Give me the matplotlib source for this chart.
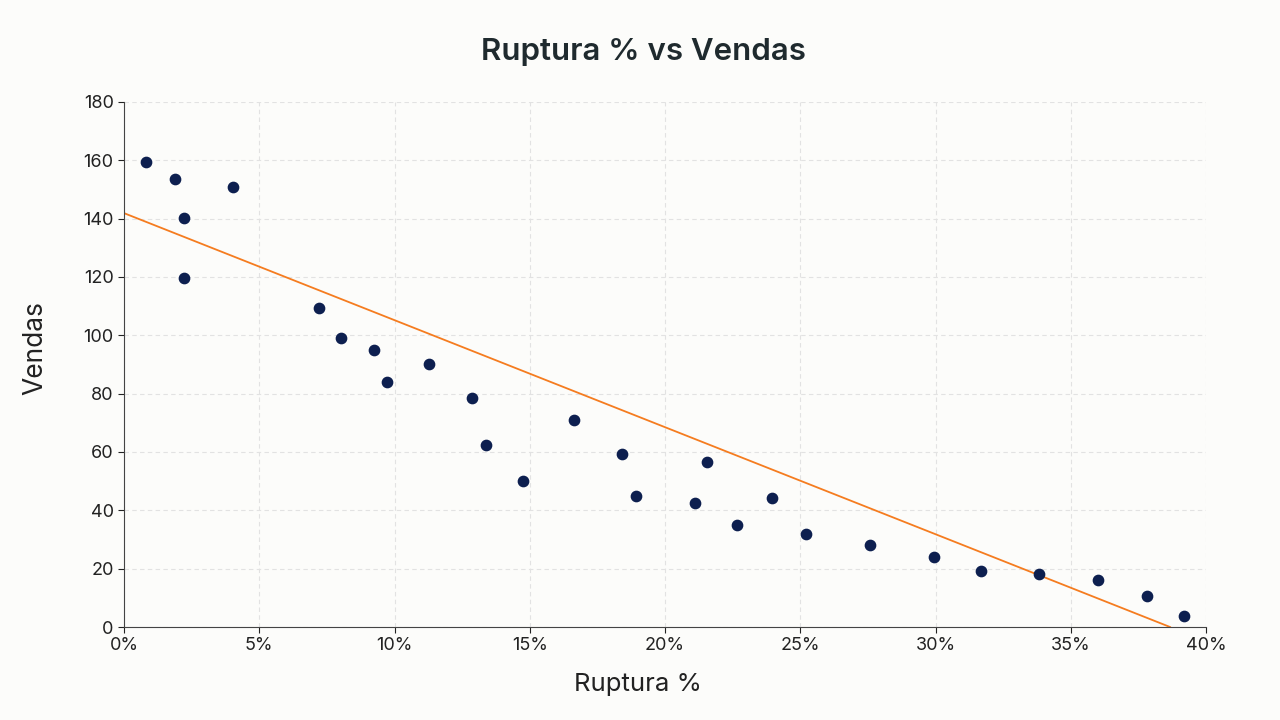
import numpy as np
import matplotlib
matplotlib.use("Agg")
import matplotlib.pyplot as plt
from matplotlib.ticker import FuncFormatter

ruptura = [0.81,1.89,2.22,2.22,4.03,7.21,8.02,9.24,9.72,11.28,12.87,13.38,14.75,16.64,18.41,18.93,
           21.11,21.55,22.66,23.96,25.21,27.58,29.95,31.68,33.83,36.0,37.82,39.19]
vendas = [159.4,153.6,140.2,119.6,150.8,109.4,99.1,95.0,84.0,90.2,78.5,62.4,50.1,71.0,59.3,44.9,
          42.5,56.6,35.0,44.2,31.9,28.1,24.0,19.2,18.2,16.1,10.6,3.8]
trend_x = [0, 38.67]
trend_y = [141.9, 0]

plt.rcParams['font.family'] = ['Inter', 'DejaVu Sans']
bg = '#fcfcfa'
fig = plt.figure(figsize=(12.8, 7.2), dpi=100, facecolor=bg)
ax = fig.add_axes([124/1280, 1-627/720, (1206-124)/1280, (627-102)/720], facecolor=bg)
ax.scatter(ruptura, vendas, s=55, color='#0d1f4f', zorder=3)
ax.plot(trend_x, trend_y, color='#f57c1f', lw=1.3, zorder=2)
ax.set_xlim(0, 40)
ax.set_ylim(0, 180)
ax.set_xticks(range(0, 41, 5))
ax.set_yticks(range(0, 181, 20))
ax.xaxis.set_major_formatter(FuncFormatter(lambda v, p: f"{v:.0f}%"))
ax.grid(True, color='#e2e2e2', ls=(0, (4, 3)), lw=0.8)
ax.set_axisbelow(True)
for s in ['top', 'right']:
    ax.spines[s].set_visible(False)
for s in ['left', 'bottom']:
    ax.spines[s].set_color('#444444')
    ax.spines[s].set_linewidth(0.8)
ax.tick_params(labelsize=13, colors='#222222', length=4)
fig.text(638/1280, 1-685/720, 'Ruptura %', fontsize=18.5, color='#222222', ha='center', va='center')
fig.text(35/1280, 1-348/720, 'Vendas', fontsize=19, color='#222222', ha='center', va='center', rotation=90)
fig.text(643/1280, 1-52/720, 'Ruptura % vs Vendas', fontsize=22.5, fontweight='semibold',
         color='#1f2a2e', ha='center', va='center')
fig.savefig('out.png', dpi=100, facecolor=bg)
